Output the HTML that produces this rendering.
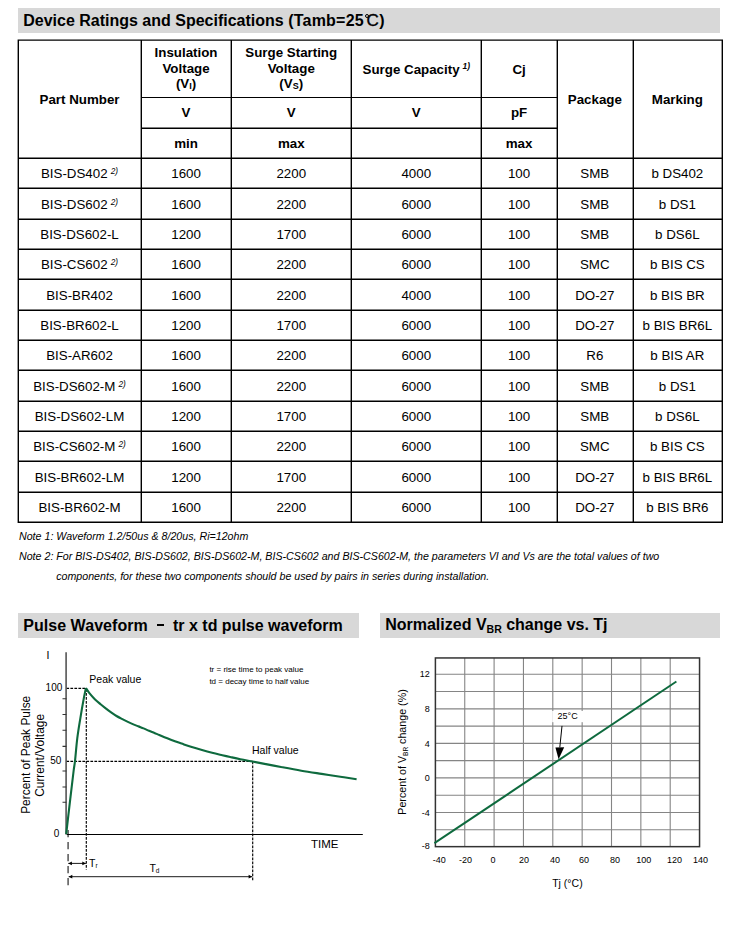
<!DOCTYPE html>
<html><head><meta charset="utf-8"><title>Device Ratings</title>
<style>
html,body{margin:0;padding:0;background:#fff;}
body{width:738px;height:928px;position:relative;overflow:hidden;font-family:"Liberation Sans",sans-serif;color:#000;}
.ln{position:absolute;}
.c,.h{position:absolute;text-align:center;white-space:nowrap;font-size:13.33px;}
.h{font-weight:bold;}
.ban{position:absolute;background:#d8d8d8;font-weight:bold;font-size:16px;white-space:nowrap;}
.t{position:absolute;white-space:nowrap;line-height:1;}
.sup{font-style:italic;font-size:8.3px;position:relative;top:-4.2px;margin-left:3.1px;}
.hsup{font-style:italic;font-size:8.4px;position:relative;top:-4.4px;margin-left:3px;}
.sub{font-size:9px;position:relative;top:1px;}
.ml{position:absolute;text-align:center;font-weight:bold;font-size:13.33px;line-height:15.75px;white-space:nowrap;}
.note{position:absolute;font-style:italic;font-size:10.67px;white-space:nowrap;line-height:1;}
svg{position:absolute;left:0;top:0;}
</style></head><body>

<div class="ban" style="left:18px;top:8px;width:702px;height:24.5px;"><span class="t" style="left:5.2px;top:4.1px;">Device Ratings and Specifications <span style="letter-spacing:0.22px">(Tamb=25</span><span style="display:inline-block;box-sizing:border-box;width:4px;height:4px;border:1.1px solid #000;border-radius:50%;position:relative;top:-8.6px;margin-left:1.3px;"></span><span style="font-weight:normal;font-size:17px;margin-left:-2.6px;position:relative;top:0.4px;-webkit-text-stroke:0.35px #000;">C</span><span style="margin-left:0.3px">)</span></span></div>
<div class="ban" style="left:18px;top:613px;width:340.8px;height:24.5px;"><span class="t" style="left:5.2px;top:4.7px;"><span style="letter-spacing:0.05px;">Pulse Waveform</span><span style="display:inline-block;width:7.1px;height:1.9px;background:#000;vertical-align:4.6px;margin:0 8.9px 0 9.2px;"></span>tr x td pulse waveform</span></div>
<div class="ban" style="left:380px;top:613px;width:340px;height:24.5px;"><span class="t" style="left:5.2px;top:4.1px;">Normalized V<span style="font-size:10.5px;position:relative;top:3px;">BR</span> change vs. Tj</span></div>
<svg width="738" height="928" viewBox="0 0 738 928"><path fill="#000" fill-rule="nonzero" d="M17.60 39.45h705.40v1.40h-705.40zM17.60 157.60h705.40v1.40h-705.40zM17.60 187.60h705.40v1.40h-705.40zM17.60 218.60h705.40v1.40h-705.40zM17.60 248.60h705.40v1.40h-705.40zM17.60 278.60h705.40v1.40h-705.40zM17.60 309.60h705.40v1.40h-705.40zM17.60 339.60h705.40v1.40h-705.40zM17.60 369.60h705.40v1.40h-705.40zM17.60 400.60h705.40v1.40h-705.40zM17.60 430.60h705.40v1.40h-705.40zM17.60 460.60h705.40v1.40h-705.40zM17.60 491.60h705.40v1.40h-705.40zM17.60 521.60h705.40v1.40h-705.40zM141.00 96.90h417.00v1.20h-417.00zM141.00 127.60h417.00v1.40h-417.00zM17.60 39.60h1.40v483.40h-1.40zM140.60 39.60h1.40v483.40h-1.40zM230.60 39.60h1.40v483.40h-1.40zM350.60 39.60h1.40v483.40h-1.40zM480.60 39.60h1.40v483.40h-1.40zM556.60 39.60h1.40v483.40h-1.40zM632.60 39.60h1.40v483.40h-1.40zM721.60 39.60h1.40v483.40h-1.40z"/></svg>
<div class="h" style="left:18.05px;top:40.85px;width:122.95px;height:118.00px;line-height:118.00px">Part Number</div>
<div class="h" style="left:141.00px;top:45.08px;width:90.10px;height:16px;line-height:16px">Insulation</div>
<div class="h" style="left:141.00px;top:60.88px;width:90.10px;height:16px;line-height:16px">Voltage</div>
<div class="h" style="left:141.00px;top:76.38px;width:90.10px;height:16px;line-height:16px">(V<span class="sub">I</span>)</div>
<div class="h" style="left:231.10px;top:45.08px;width:120.30px;height:16px;line-height:16px">Surge Starting</div>
<div class="h" style="left:231.10px;top:60.88px;width:120.30px;height:16px;line-height:16px">Voltage</div>
<div class="h" style="left:231.10px;top:76.38px;width:120.30px;height:16px;line-height:16px">(V<span class="sub">S</span>)</div>
<div class="h" style="left:351.40px;top:40.85px;width:129.80px;height:57.40px;line-height:57.40px">Surge Capacity<span class="hsup">1)</span></div>
<div class="h" style="left:481.20px;top:40.85px;width:75.80px;height:57.40px;line-height:57.40px">Cj</div>
<div class="h" style="left:557.00px;top:40.85px;width:75.60px;height:118.00px;line-height:118.00px">Package</div>
<div class="h" style="left:632.60px;top:40.85px;width:89.50px;height:118.00px;line-height:118.00px">Marking</div>
<div class="h" style="left:141.00px;top:98.25px;width:90.10px;height:30.60px;line-height:30.60px">V</div>
<div class="h" style="left:231.10px;top:98.25px;width:120.30px;height:30.60px;line-height:30.60px">V</div>
<div class="h" style="left:351.40px;top:98.25px;width:129.80px;height:30.60px;line-height:30.60px">V</div>
<div class="h" style="left:481.20px;top:98.25px;width:75.80px;height:30.60px;line-height:30.60px">pF</div>
<div class="h" style="left:141.00px;top:128.85px;width:90.10px;height:30.00px;line-height:30.00px">min</div>
<div class="h" style="left:231.10px;top:128.85px;width:120.30px;height:30.00px;line-height:30.00px">max</div>
<div class="h" style="left:481.20px;top:128.85px;width:75.80px;height:30.00px;line-height:30.00px">max</div>
<div class="c" style="left:18.05px;top:158px;width:122.95px;height:31px;line-height:31px">BIS-DS402<span class="sup">2)</span></div>
<div class="c" style="left:141.00px;top:158px;width:90.10px;height:31px;line-height:31px">1600</div>
<div class="c" style="left:231.10px;top:158px;width:120.30px;height:31px;line-height:31px">2200</div>
<div class="c" style="left:351.40px;top:158px;width:129.80px;height:31px;line-height:31px">4000</div>
<div class="c" style="left:481.20px;top:158px;width:75.80px;height:31px;line-height:31px">100</div>
<div class="c" style="left:557.00px;top:158px;width:75.60px;height:31px;line-height:31px">SMB</div>
<div class="c" style="left:632.60px;top:158px;width:89.50px;height:31px;line-height:31px">b DS402</div>
<div class="c" style="left:18.05px;top:189px;width:122.95px;height:31px;line-height:31px">BIS-DS602<span class="sup">2)</span></div>
<div class="c" style="left:141.00px;top:189px;width:90.10px;height:31px;line-height:31px">1600</div>
<div class="c" style="left:231.10px;top:189px;width:120.30px;height:31px;line-height:31px">2200</div>
<div class="c" style="left:351.40px;top:189px;width:129.80px;height:31px;line-height:31px">6000</div>
<div class="c" style="left:481.20px;top:189px;width:75.80px;height:31px;line-height:31px">100</div>
<div class="c" style="left:557.00px;top:189px;width:75.60px;height:31px;line-height:31px">SMB</div>
<div class="c" style="left:632.60px;top:189px;width:89.50px;height:31px;line-height:31px">b DS1</div>
<div class="c" style="left:18.05px;top:219px;width:122.95px;height:31px;line-height:31px">BIS-DS602-L</div>
<div class="c" style="left:141.00px;top:219px;width:90.10px;height:31px;line-height:31px">1200</div>
<div class="c" style="left:231.10px;top:219px;width:120.30px;height:31px;line-height:31px">1700</div>
<div class="c" style="left:351.40px;top:219px;width:129.80px;height:31px;line-height:31px">6000</div>
<div class="c" style="left:481.20px;top:219px;width:75.80px;height:31px;line-height:31px">100</div>
<div class="c" style="left:557.00px;top:219px;width:75.60px;height:31px;line-height:31px">SMB</div>
<div class="c" style="left:632.60px;top:219px;width:89.50px;height:31px;line-height:31px">b DS6L</div>
<div class="c" style="left:18.05px;top:249px;width:122.95px;height:31px;line-height:31px">BIS-CS602<span class="sup">2)</span></div>
<div class="c" style="left:141.00px;top:249px;width:90.10px;height:31px;line-height:31px">1600</div>
<div class="c" style="left:231.10px;top:249px;width:120.30px;height:31px;line-height:31px">2200</div>
<div class="c" style="left:351.40px;top:249px;width:129.80px;height:31px;line-height:31px">6000</div>
<div class="c" style="left:481.20px;top:249px;width:75.80px;height:31px;line-height:31px">100</div>
<div class="c" style="left:557.00px;top:249px;width:75.60px;height:31px;line-height:31px">SMC</div>
<div class="c" style="left:632.60px;top:249px;width:89.50px;height:31px;line-height:31px">b BIS CS</div>
<div class="c" style="left:18.05px;top:280px;width:122.95px;height:31px;line-height:31px">BIS-BR402</div>
<div class="c" style="left:141.00px;top:280px;width:90.10px;height:31px;line-height:31px">1600</div>
<div class="c" style="left:231.10px;top:280px;width:120.30px;height:31px;line-height:31px">2200</div>
<div class="c" style="left:351.40px;top:280px;width:129.80px;height:31px;line-height:31px">4000</div>
<div class="c" style="left:481.20px;top:280px;width:75.80px;height:31px;line-height:31px">100</div>
<div class="c" style="left:557.00px;top:280px;width:75.60px;height:31px;line-height:31px">DO-27</div>
<div class="c" style="left:632.60px;top:280px;width:89.50px;height:31px;line-height:31px">b BIS BR</div>
<div class="c" style="left:18.05px;top:310px;width:122.95px;height:31px;line-height:31px">BIS-BR602-L</div>
<div class="c" style="left:141.00px;top:310px;width:90.10px;height:31px;line-height:31px">1200</div>
<div class="c" style="left:231.10px;top:310px;width:120.30px;height:31px;line-height:31px">1700</div>
<div class="c" style="left:351.40px;top:310px;width:129.80px;height:31px;line-height:31px">6000</div>
<div class="c" style="left:481.20px;top:310px;width:75.80px;height:31px;line-height:31px">100</div>
<div class="c" style="left:557.00px;top:310px;width:75.60px;height:31px;line-height:31px">DO-27</div>
<div class="c" style="left:632.60px;top:310px;width:89.50px;height:31px;line-height:31px">b BIS BR6L</div>
<div class="c" style="left:18.05px;top:340px;width:122.95px;height:31px;line-height:31px">BIS-AR602</div>
<div class="c" style="left:141.00px;top:340px;width:90.10px;height:31px;line-height:31px">1600</div>
<div class="c" style="left:231.10px;top:340px;width:120.30px;height:31px;line-height:31px">2200</div>
<div class="c" style="left:351.40px;top:340px;width:129.80px;height:31px;line-height:31px">6000</div>
<div class="c" style="left:481.20px;top:340px;width:75.80px;height:31px;line-height:31px">100</div>
<div class="c" style="left:557.00px;top:340px;width:75.60px;height:31px;line-height:31px">R6</div>
<div class="c" style="left:632.60px;top:340px;width:89.50px;height:31px;line-height:31px">b BIS AR</div>
<div class="c" style="left:18.05px;top:371px;width:122.95px;height:31px;line-height:31px">BIS-DS602-M<span class="sup">2)</span></div>
<div class="c" style="left:141.00px;top:371px;width:90.10px;height:31px;line-height:31px">1600</div>
<div class="c" style="left:231.10px;top:371px;width:120.30px;height:31px;line-height:31px">2200</div>
<div class="c" style="left:351.40px;top:371px;width:129.80px;height:31px;line-height:31px">6000</div>
<div class="c" style="left:481.20px;top:371px;width:75.80px;height:31px;line-height:31px">100</div>
<div class="c" style="left:557.00px;top:371px;width:75.60px;height:31px;line-height:31px">SMB</div>
<div class="c" style="left:632.60px;top:371px;width:89.50px;height:31px;line-height:31px">b DS1</div>
<div class="c" style="left:18.05px;top:401px;width:122.95px;height:31px;line-height:31px">BIS-DS602-LM</div>
<div class="c" style="left:141.00px;top:401px;width:90.10px;height:31px;line-height:31px">1200</div>
<div class="c" style="left:231.10px;top:401px;width:120.30px;height:31px;line-height:31px">1700</div>
<div class="c" style="left:351.40px;top:401px;width:129.80px;height:31px;line-height:31px">6000</div>
<div class="c" style="left:481.20px;top:401px;width:75.80px;height:31px;line-height:31px">100</div>
<div class="c" style="left:557.00px;top:401px;width:75.60px;height:31px;line-height:31px">SMB</div>
<div class="c" style="left:632.60px;top:401px;width:89.50px;height:31px;line-height:31px">b DS6L</div>
<div class="c" style="left:18.05px;top:431px;width:122.95px;height:31px;line-height:31px">BIS-CS602-M<span class="sup">2)</span></div>
<div class="c" style="left:141.00px;top:431px;width:90.10px;height:31px;line-height:31px">1600</div>
<div class="c" style="left:231.10px;top:431px;width:120.30px;height:31px;line-height:31px">2200</div>
<div class="c" style="left:351.40px;top:431px;width:129.80px;height:31px;line-height:31px">6000</div>
<div class="c" style="left:481.20px;top:431px;width:75.80px;height:31px;line-height:31px">100</div>
<div class="c" style="left:557.00px;top:431px;width:75.60px;height:31px;line-height:31px">SMC</div>
<div class="c" style="left:632.60px;top:431px;width:89.50px;height:31px;line-height:31px">b BIS CS</div>
<div class="c" style="left:18.05px;top:462px;width:122.95px;height:31px;line-height:31px">BIS-BR602-LM</div>
<div class="c" style="left:141.00px;top:462px;width:90.10px;height:31px;line-height:31px">1200</div>
<div class="c" style="left:231.10px;top:462px;width:120.30px;height:31px;line-height:31px">1700</div>
<div class="c" style="left:351.40px;top:462px;width:129.80px;height:31px;line-height:31px">6000</div>
<div class="c" style="left:481.20px;top:462px;width:75.80px;height:31px;line-height:31px">100</div>
<div class="c" style="left:557.00px;top:462px;width:75.60px;height:31px;line-height:31px">DO-27</div>
<div class="c" style="left:632.60px;top:462px;width:89.50px;height:31px;line-height:31px">b BIS BR6L</div>
<div class="c" style="left:18.05px;top:492px;width:122.95px;height:31px;line-height:31px">BIS-BR602-M</div>
<div class="c" style="left:141.00px;top:492px;width:90.10px;height:31px;line-height:31px">1600</div>
<div class="c" style="left:231.10px;top:492px;width:120.30px;height:31px;line-height:31px">2200</div>
<div class="c" style="left:351.40px;top:492px;width:129.80px;height:31px;line-height:31px">6000</div>
<div class="c" style="left:481.20px;top:492px;width:75.80px;height:31px;line-height:31px">100</div>
<div class="c" style="left:557.00px;top:492px;width:75.60px;height:31px;line-height:31px">DO-27</div>
<div class="c" style="left:632.60px;top:492px;width:89.50px;height:31px;line-height:31px">b BIS BR6</div>
<div class="note" style="left:19px;top:531px;">Note 1: Waveform 1.2/50us &amp; 8/20us, Ri=12ohm</div>
<div class="note" style="left:19px;top:551px;">Note 2: For BIS-DS402, BIS-DS602, BIS-DS602-M, BIS-CS602 and BIS-CS602-M, the parameters VI and Vs are the total values of two</div>
<div class="note" style="left:56.2px;top:571px;">components, for these two components should be used by pairs in series during installation.</div>
<svg width="738" height="928" viewBox="0 0 738 928" style="font-family:'Liberation Sans',sans-serif" shape-rendering="auto">
<g stroke="#000" stroke-width="1.15" fill="none" stroke-dasharray="2.7 1.3">
<path d="M66.4 688.3H86.2"/>
<path d="M86.3 689V869.4"/>
<path d="M66.4 761.3H252.6"/>
<path d="M252.7 761.5V881.6"/>
</g>
<path d="M68.1 830.1V885.3" stroke="#555" stroke-width="1.5" stroke-dasharray="7.2 4.8" fill="none"/>
<path d="M66.1 652.2V834.6" stroke="#555" stroke-width="1.6" fill="none"/>
<path d="M66.8 834.5H362.8" stroke="#000" stroke-width="1" fill="none"/>
<path d="M62.5 698.8H66.4M62.5 714.5H66.4M62.5 730.2H66.4M62.5 746.4H66.4M62.5 771.0H66.4M62.5 787.0H66.4M62.5 802.3H66.4" stroke="#333" stroke-width="1.1" fill="none"/>
<path d="M66.2 834.2C66.88 828.27 69.07 809.13 70.3 798.6C71.53 788.07 72.82 777.27 73.6 771C74.38 764.73 74.38 766.47 75 761C75.62 755.53 76.42 745.23 77.3 738.2C78.17 731.17 79.20 725.27 80.25 718.8C81.30 712.33 82.66 704.53 83.6 699.4C84.54 694.27 85.52 689.90 85.9 688.0" stroke="#0e6a3e" stroke-width="2.1" fill="none" stroke-linejoin="miter"/>
<path d="M85.9 688.0C86.48 688.87 87.92 691.33 89.4 693.2C90.88 695.07 92.98 697.39 94.8 699.2C96.62 701.01 98.48 702.52 100.3 704.05C102.12 705.58 103.90 707.01 105.7 708.4C107.50 709.79 109.30 711.13 111.1 712.4C112.90 713.67 114.70 714.92 116.5 716C118.30 717.08 120.08 717.97 121.9 718.9C123.72 719.83 125.58 720.73 127.4 721.6C129.22 722.47 131.00 723.32 132.8 724.1C134.60 724.88 136.40 725.58 138.2 726.3C140.00 727.02 141.80 727.65 143.6 728.4C145.40 729.15 147.18 730.03 149 730.8C150.82 731.57 152.68 732.25 154.5 733C156.32 733.75 157.07 734.13 159.9 735.3C162.73 736.47 167.88 738.62 171.5 740.0C175.12 741.38 178.22 742.42 181.6 743.6C184.98 744.78 188.40 746.02 191.8 747.1C195.20 748.18 198.62 749.15 202 750.1C205.38 751.05 208.72 751.95 212.1 752.8C215.48 753.65 219.28 754.50 222.3 755.2C225.32 755.90 227.20 756.33 230.2 757.0C233.20 757.67 236.58 758.45 240.3 759.2C244.02 759.95 249.10 760.85 252.5 761.5C255.90 762.15 255.95 762.18 260.7 763.1C265.45 764.02 274.23 765.73 281 767C287.77 768.27 294.53 769.55 301.3 770.7C308.07 771.85 314.82 772.85 321.6 773.9C328.38 774.95 336.17 776.12 342 777C347.83 777.88 354.17 778.83 356.6 779.2" stroke="#0e6a3e" stroke-width="2.1" fill="none" stroke-linejoin="round"/>
<path d="M68.3 863.4H85.9" stroke="#000" stroke-width="0.9" fill="none"/>
<path d="M68.3 863.4l3.6 -1.9v3.8z" fill="#000"/>
<path d="M85.9 863.4l-3.6 -1.9v3.8z" fill="#000"/>
<path d="M68.7 876.7H252.2" stroke="#000" stroke-width="0.9" fill="none"/>
<path d="M68.7 876.7l3.6 -1.9v3.8z" fill="#000"/>
<path d="M252.2 876.7l-3.6 -1.9v3.8z" fill="#000"/>
<g fill="#000">
<text x="46.6" y="658.6" font-size="10.5">I</text>
<text x="62.3" y="690.7" font-size="10" text-anchor="end">100</text>
<text x="61.4" y="764.1" font-size="10" text-anchor="end">50</text>
<text x="59.2" y="837.2" font-size="10" text-anchor="end">0</text>
<text x="89.3" y="682.6" font-size="10.5">Peak value</text>
<text x="252" y="754" font-size="10.5">Half value</text>
<text x="209.4" y="672" font-size="8">tr = rise time to peak value</text>
<text x="209.4" y="683.8" font-size="8">td = decay time to half value</text>
<text x="311" y="848" font-size="11.5">TIME</text>
<text x="89" y="866.9" font-size="10.5">T<tspan font-size="6.5" dy="1">r</tspan></text>
<text x="149.4" y="871.8" font-size="10.5">T<tspan font-size="6.5" dy="1">d</tspan></text>
<text transform="translate(29.6 754.8) rotate(-90)" font-size="11.95" text-anchor="middle">Percent of Peak Pulse</text>
<text transform="translate(43.7 755.4) rotate(-90)" font-size="11.95" text-anchor="middle">Current/Voltage</text>
</g>
<g stroke="#858585" stroke-width="1.1" fill="none">
<path d="M464.75 657.95V846.65M494.10 657.95V846.65M523.45 657.95V846.65M552.80 657.95V846.65M582.15 657.95V846.65M611.50 657.95V846.65M640.85 657.95V846.65M670.20 657.95V846.65"/>
<path d="M435.4 829.73H699.55M435.4 812.46H699.55M435.4 795.19H699.55M435.4 777.92H699.55M435.4 760.65H699.55M435.4 743.38H699.55M435.4 726.11H699.55M435.4 708.84H699.55M435.4 691.57H699.55M435.4 674.30H699.55"/>
</g>
<rect x="435.4" y="657.95" width="264.15" height="188.69999999999993" fill="none" stroke="#333" stroke-width="1.5"/>
<rect x="552.2" y="711" width="30.8" height="11.2" fill="#fff"/>
<path d="M434.4 843.2L676.4 681.5" stroke="#0e6a3e" stroke-width="2" fill="none"/>
<path d="M562 725.9L559.8 747.4" stroke="#000" stroke-width="1" fill="none"/>
<path d="M558.6 759.3L555.4 747.4L564.2 747.2z" fill="#000"/>
<g fill="#000" font-size="9">
<text x="557.6" y="718.8">25°C</text>
<text x="429.8" y="676.92" text-anchor="end">12</text>
<text x="429.8" y="712.27" text-anchor="end">8</text>
<text x="429.8" y="747.42" text-anchor="end">4</text>
<text x="429.8" y="780.92" text-anchor="end">0</text>
<text x="429.8" y="816.27" text-anchor="end">-4</text>
<text x="429.8" y="848.92" text-anchor="end">-8</text>
<text x="439.3" y="862.8" text-anchor="middle">-40</text>
<text x="465.5" y="862.8" text-anchor="middle">-20</text>
<text x="493" y="862.8" text-anchor="middle">0</text>
<text x="523.9" y="862.8" text-anchor="middle">20</text>
<text x="555" y="862.8" text-anchor="middle">40</text>
<text x="584.1" y="862.8" text-anchor="middle">60</text>
<text x="615" y="862.8" text-anchor="middle">80</text>
<text x="643.7" y="862.8" text-anchor="middle">100</text>
<text x="674.5" y="862.8" text-anchor="middle">120</text>
<text x="700.4" y="862.8" text-anchor="middle">140</text>
</g>
<text x="552.2" y="887.3" font-size="10.5" fill="#000">Tj (°C)</text>
<text transform="translate(406 752) rotate(-90)" font-size="10.7" text-anchor="middle" fill="#000">Percent of V<tspan font-size="6.5" dy="1.5">BR</tspan><tspan dy="-1.5"> change (%)</tspan></text>
</svg>
</body></html>
